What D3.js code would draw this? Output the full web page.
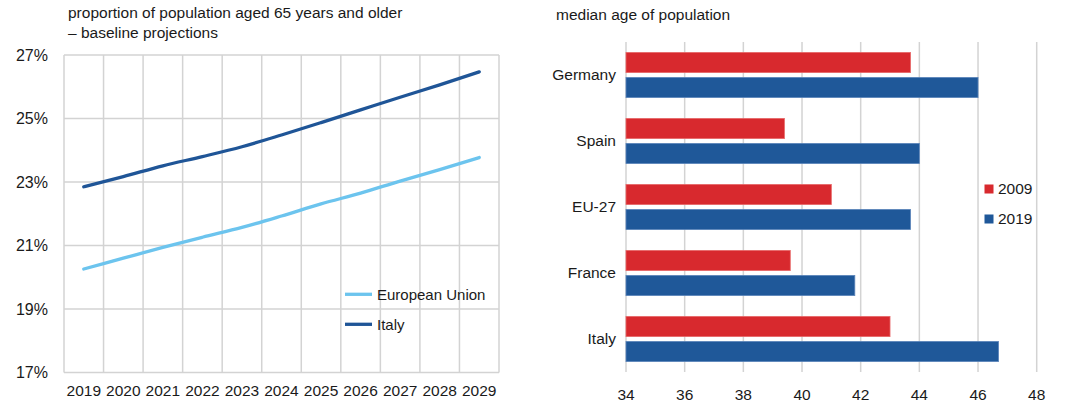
<!DOCTYPE html>
<html>
<head>
<meta charset="utf-8">
<script src="https://cdn.jsdelivr.net/npm/d3@7"></script>
<style>
  body { margin: 0; background: #fff; }
  svg { display: block; font-family: 'Liberation Sans', Arial, sans-serif; }
  text { fill: #1a1a1a; }
</style>
</head>
<body>
<div id="chart"></div>
<script>
// left panel: share of population aged 65+
const years = ['2019', '2020', '2021', '2022', '2023', '2024', '2025', '2026', '2027', '2028', '2029'];
const euShare = [20.26, 20.6, 20.94, 21.26, 21.57, 21.93, 22.31, 22.65, 23.03, 23.39, 23.77];
const italyShare = [22.85, 23.17, 23.51, 23.8, 24.11, 24.48, 24.87, 25.27, 25.67, 26.06, 26.47];
const shareTicks = [17, 19, 21, 23, 25, 27];

// right panel: median age
const countries = ['Germany', 'Spain', 'EU-27', 'France', 'Italy'];
const age2009 = [43.7, 39.4, 41.0, 39.6, 43.0];
const age2019 = [46.0, 44.0, 43.7, 41.8, 46.7];
const ageTicks = [34, 36, 38, 40, 42, 44, 46, 48];

const W = 1077, H = 403;
const grid = '#d3d3d3';

const svg = d3.select('#chart').append('svg')
  .attr('width', W)
  .attr('height', H);

// ---------- left chart ----------
const left = svg.append('g');

left.append('text')
  .attr('x', 68).attr('y', 18)
  .style('font-size', '15.5px')
  .text('proportion of population aged 65 years and older');
left.append('text')
  .attr('x', 68).attr('y', 38)
  .style('font-size', '15.5px')
  .text('\u2013 baseline projections');

const x = d3.scaleBand()
  .domain(years)
  .range([64, 499]);

const y = d3.scaleLinear()
  .domain([17, 27])
  .range([372.5, 55]);

// horizontal grid
left.selectAll('line.hgrid')
  .data(shareTicks)
  .enter()
  .append('line')
  .attr('class', 'hgrid')
  .attr('x1', x.range()[0]).attr('x2', x.range()[1])
  .attr('y1', d => y(d)).attr('y2', d => y(d))
  .style('stroke', grid)
  .style('stroke-width', 1.5);

// vertical grid on band edges
const edges = years.map(d => x(d)).concat([x.range()[1]]);
left.selectAll('line.vgrid')
  .data(edges)
  .enter()
  .append('line')
  .attr('class', 'vgrid')
  .attr('x1', d => d).attr('x2', d => d)
  .attr('y1', y(27)).attr('y2', y(17))
  .style('stroke', grid)
  .style('stroke-width', 1.5);

left.selectAll('text.ylab')
  .data(shareTicks)
  .enter()
  .append('text')
  .attr('class', 'ylab')
  .attr('x', 48)
  .attr('y', d => y(d))
  .attr('dy', '0.35em')
  .style('text-anchor', 'end')
  .style('font-size', '16px')
  .text(d => d + '%');

left.selectAll('text.xlab')
  .data(years)
  .enter()
  .append('text')
  .attr('class', 'xlab')
  .attr('x', d => x(d) + x.bandwidth() / 2)
  .attr('y', 396)
  .style('text-anchor', 'middle')
  .style('font-size', '15.5px')
  .text(d => d);

const series = [
  { name: 'European Union', values: euShare, color: '#6cc4ee' },
  { name: 'Italy', values: italyShare, color: '#1f5597' }
];

const line = d3.line()
  .x((d, i) => x(years[i]) + x.bandwidth() / 2)
  .y(d => y(d))
  .curve(d3.curveMonotoneX);

left.selectAll('path.series')
  .data(series)
  .enter()
  .append('path')
  .attr('class', 'series')
  .attr('d', d => line(d.values))
  .style('fill', 'none')
  .style('stroke', d => d.color)
  .style('stroke-width', 3.3)
  .style('stroke-linecap', 'round');

const leg = left.selectAll('g.leg')
  .data(series)
  .enter()
  .append('g')
  .attr('class', 'leg')
  .attr('transform', (d, i) => `translate(345, ${294.3 + i * 30})`);
leg.append('line')
  .attr('x1', 0).attr('x2', 27)
  .style('stroke', d => d.color)
  .style('stroke-width', 3.3);
leg.append('text')
  .attr('x', 32)
  .attr('dy', '0.35em')
  .style('font-size', '15px')
  .text(d => d.name);

// ---------- right chart ----------
const right = svg.append('g');

right.append('text')
  .attr('x', 556).attr('y', 20)
  .style('font-size', '15.5px')
  .text('median age of population');

const xr = d3.scaleLinear()
  .domain([34, 48])
  .range([626, 1036.7]);

const yr = d3.scaleBand()
  .domain(countries)
  .range([42, 372]);

const yearKeys = ['2009', '2019'];
const inner = d3.scaleBand()
  .domain(yearKeys)
  .range([0, yr.bandwidth()])
  .paddingInner(0.192)
  .paddingOuter(0.416);

const barColor = { '2009': '#d8292e', '2019': '#1f5899' };
const barEdge = { '2009': '#e86a6a', '2019': '#5d86bb' };

right.selectAll('line.grid')
  .data(ageTicks)
  .enter()
  .append('line')
  .attr('class', 'grid')
  .attr('x1', d => xr(d)).attr('x2', d => xr(d))
  .attr('y1', yr.range()[0]).attr('y2', yr.range()[1])
  .style('stroke', grid)
  .style('stroke-width', 1.5);

right.selectAll('text.xlab')
  .data(ageTicks)
  .enter()
  .append('text')
  .attr('class', 'xlab')
  .attr('x', d => xr(d))
  .attr('y', 400)
  .style('text-anchor', 'middle')
  .style('font-size', '15.5px')
  .text(d => d);

const bars = [];
countries.forEach((c, i) => {
  bars.push({ country: c, year: '2009', value: age2009[i] });
  bars.push({ country: c, year: '2019', value: age2019[i] });
});

right.selectAll('rect.bar')
  .data(bars)
  .enter()
  .append('rect')
  .attr('class', 'bar')
  .attr('x', xr(34))
  .attr('y', d => yr(d.country) + inner(d.year))
  .attr('width', d => xr(d.value) - xr(34))
  .attr('height', inner.bandwidth())
  .style('fill', d => barColor[d.year])
  .style('stroke', d => barEdge[d.year])
  .style('stroke-width', 0.8);

right.selectAll('text.cat')
  .data(countries)
  .enter()
  .append('text')
  .attr('class', 'cat')
  .attr('x', 616)
  .attr('y', d => yr(d) + yr.bandwidth() / 2)
  .attr('dy', '0.35em')
  .style('text-anchor', 'end')
  .style('font-size', '15.5px')
  .text(d => d);

const rleg = right.selectAll('g.rleg')
  .data(yearKeys)
  .enter()
  .append('g')
  .attr('class', 'rleg')
  .attr('transform', (d, i) => `translate(984.5, ${189 + i * 30})`);
rleg.append('rect')
  .attr('x', 0).attr('y', -4.5)
  .attr('width', 9).attr('height', 9)
  .style('fill', d => barColor[d]);
rleg.append('text')
  .attr('x', 13.5)
  .attr('dy', '0.35em')
  .style('font-size', '15.5px')
  .text(d => d);
</script>
</body>
</html>
